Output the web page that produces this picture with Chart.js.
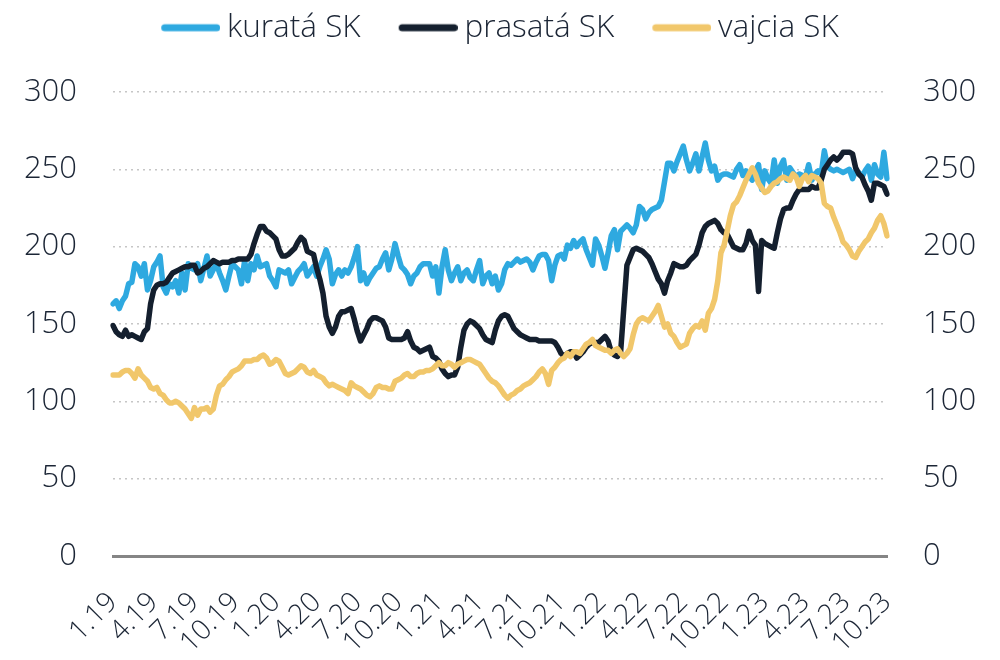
<!DOCTYPE html>
<html>
<head>
<meta charset="utf-8">
<script src="https://cdn.jsdelivr.net/npm/chart.js@4.4.0/dist/chart.umd.min.js"></script>
<style>
html, body { margin: 0; padding: 0; background: #fff; }
#wrap { width: 1000px; height: 660px; position: relative; }
</style>
</head>
<body>
<div id="wrap"><canvas id="chart"></canvas></div>
<script>
// quarter tick labels, one every 13 weeks
var tickLabels = ['1.19', '4.19', '7.19', '10.19', '1.20', '4.20', '7.20', '10.20', '1.21', '4.21',
    '7.21', '10.21', '1.22', '4.22', '7.22', '10.22', '1.23', '4.23', '7.23', '10.23'];
var weeksPerTick = 13;

var kurata = [
    163, 165, 160, 165, 168, 176, 177, 189, 187, 181,
    189, 172, 178, 187, 190, 194, 174, 170, 176, 174,
    178, 170, 183, 172, 189, 186, 185, 189, 178, 186,
    194, 181, 185, 189, 183, 178, 172, 181, 189, 187,
    185, 176, 191, 178, 189, 185, 194, 187, 188, 189,
    181, 178, 174, 185, 184, 183, 185, 176, 180, 184,
    186, 189, 181, 184, 187, 181, 187, 192, 198, 192,
    176, 182, 185, 181, 185, 183, 187, 193, 200, 178,
    183, 176, 180, 183, 186, 187, 192, 196, 185, 192,
    202, 194, 187, 185, 182, 176, 181, 183, 187, 189,
    189, 189, 181, 187, 170, 187, 198, 185, 178, 183,
    187, 178, 183, 185, 180, 178, 185, 191, 176, 181,
    183, 176, 181, 172, 176, 185, 189, 188, 190, 192,
    190, 191, 192, 190, 185, 190, 194, 195, 195, 191,
    178, 188, 194, 195, 192, 201, 199, 204, 200, 203,
    205, 198, 193, 188, 205, 201, 194, 186, 196, 207,
    211, 198, 210, 212, 214, 212, 209, 214, 226, 224,
    218, 222, 224, 225, 226, 230, 242, 254, 254, 249,
    255, 260, 265, 256, 249, 254, 260, 249, 258, 267,
    256, 249, 252, 243, 246, 247, 247, 246, 245, 250,
    253, 246, 249, 246, 243, 249, 253, 237, 249, 244,
    241, 256, 241, 252, 256, 243, 251, 248, 245, 247,
    246, 245, 253, 243, 247, 249, 247, 262, 252, 250,
    249, 250, 249, 248, 249, 250, 244, 249, 248, 245,
    249, 252, 243, 253, 247, 245, 261, 244
];

var prasata = [
    149, 145, 143, 142, 146, 142, 143, 142, 141, 140,
    145, 147, 163, 172, 175, 176, 176, 177, 180, 183,
    184, 185, 186, 187, 187, 188, 188, 183, 184, 186,
    187, 189, 191, 190, 189, 190, 190, 190, 191, 191,
    192, 192, 192, 192, 195, 202, 208, 213, 213, 210,
    209, 207, 205, 198, 194, 194, 195, 197, 199, 203,
    206, 204, 197, 196, 195, 186, 179, 170, 155, 148,
    144, 148, 155, 158, 158, 159, 160, 153, 145, 139,
    143, 147, 152, 154, 154, 153, 152, 148, 141, 140,
    140, 140, 140, 141, 145, 139, 135, 134, 132, 133,
    134, 135, 129, 128, 126, 121, 118, 116, 117, 117,
    122, 135, 146, 150, 152, 151, 149, 147, 143, 140,
    139, 138, 146, 152, 155, 156, 155, 151, 147, 145,
    143, 142, 141, 140, 140, 140, 139, 139, 139, 139,
    139, 138, 135, 131, 129, 131, 132, 132, 128, 130,
    132, 135, 137, 138, 138, 138, 140, 142, 139, 132,
    130, 129, 132, 160, 188, 193, 198, 199, 198, 197,
    195, 193, 189, 184, 179, 176, 170, 178, 183, 189,
    188, 187, 187, 188, 191, 193, 195, 201, 209, 213,
    215, 216, 217, 215, 211, 209, 208, 204, 200, 199,
    198, 198, 202, 210, 204, 201, 171, 204, 202, 201,
    200, 199, 209, 218, 224, 225, 225, 230, 234, 237,
    237, 237, 237, 239, 238, 238, 243, 250, 253, 256,
    258, 256, 258, 261, 261, 261, 260, 251, 247, 245,
    240, 236, 230, 241, 241, 240, 239, 234
];

var vajcia = [
    117, 117, 117, 119, 120, 120, 118, 115, 121, 117,
    115, 113, 109, 108, 109, 105, 104, 101, 99, 99,
    100, 99, 97, 95, 92, 89, 96, 91, 95, 95,
    96, 93, 95, 104, 110, 111, 114, 116, 119, 120,
    121, 123, 126, 126, 126, 127, 127, 129, 130, 128,
    124, 125, 127, 126, 122, 118, 117, 118, 119, 121,
    123, 122, 119, 118, 120, 117, 116, 115, 112, 110,
    111, 110, 109, 108, 107, 105, 112, 110, 109, 108,
    106, 104, 103, 105, 109, 110, 109, 109, 108, 108,
    113, 114, 115, 117, 118, 116, 116, 118, 119, 119,
    120, 120, 121, 123, 125, 123, 123, 125, 124, 122,
    124, 125, 126, 127, 127, 126, 125, 124, 121, 118,
    115, 113, 112, 110, 107, 104, 102, 104, 105, 107,
    108, 110, 111, 112, 114, 116, 119, 121, 118, 111,
    120, 122, 125, 127, 128, 131, 129, 132, 132, 131,
    134, 137, 138, 140, 136, 135, 134, 133, 133, 131,
    133, 134, 131, 129, 131, 134, 143, 150, 153, 154,
    153, 152, 155, 158, 162, 155, 148, 150, 144, 142,
    138, 135, 136, 137, 144, 147, 149, 148, 152, 146,
    157, 160, 166, 178, 196, 201, 210, 220, 227, 229,
    233, 238, 243, 247, 251, 247, 241, 238, 235, 236,
    239, 241, 242, 244, 245, 244, 243, 247, 245, 239,
    244, 246, 242, 246, 245, 244, 241, 228, 226, 225,
    219, 214, 209, 203, 201, 198, 194, 193, 197, 200,
    203, 205, 209, 212, 217, 220, 215, 207
];

var labels = kurata.map(function(v, i) {
    return i % weeksPerTick === 0 ? tickLabels[i / weeksPerTick] : '';
});

var textColor = '#1b2535';
Chart.defaults.font.family = "'Open Sans', sans-serif";
Chart.defaults.font.weight = 300;
Chart.defaults.color = textColor;

// legend sits high, plot area starts lower
var legendSpace = {
    id: 'legendSpace',
    beforeInit: function(chart) {
        var fit = chart.legend.fit;
        chart.legend.fit = function() {
            fit.call(this);
            this.height = 92;
        };
        var draw = chart.legend.draw;
        chart.legend.draw = function() {
            this.ctx.save();
            this.ctx.translate(0, -26);
            draw.call(this);
            this.ctx.restore();
        };
    }
};

// legend swatch: rounded line pushed to the right so it sits close to the text
function makeSwatch(color) {
    var c = document.createElement('canvas');
    c.width = 68;
    c.height = 10;
    var g = c.getContext('2d');
    g.strokeStyle = color;
    g.lineWidth = 7;
    g.lineCap = 'round';
    g.beginPath();
    g.moveTo(12.5, 5);
    g.lineTo(64.5, 5);
    g.stroke();
    return c;
}

function series(label, data, color, order) {
    return {
        label: label,
        data: data,
        borderColor: color,
        backgroundColor: color,
        borderWidth: 5.5,
        borderCapStyle: 'round',
        borderJoinStyle: 'round',
        pointRadius: 0,
        tension: 0,
        yAxisID: 'y',
        order: order
    };
}

var ctx = document.getElementById('chart').getContext('2d');
var chart = new Chart(ctx, {
    type: 'line',
    data: {
        labels: labels,
        datasets: [
            series('kuratá SK', kurata, '#2ea9e0', 2),
            series('prasatá SK', prasata, '#141f2e', 1),
            series('vajcia SK', vajcia, '#f1c76b', 0)
        ]
    },
    options: {
        responsive: true,
        maintainAspectRatio: false,
        animation: false,
        layout: { padding: 0 },
        plugins: {
            legend: {
                position: 'top',
                labels: {
                    usePointStyle: true,
                    pointStyleWidth: 50,
                    padding: 38,
                    color: textColor,
                    font: { size: 31.5, weight: 300 },
                    generateLabels: function(chart) {
                        var items = Chart.defaults.plugins.legend.labels.generateLabels(chart);
                        items.forEach(function(it) {
                            it.pointStyle = makeSwatch(chart.data.datasets[it.datasetIndex].borderColor);
                        });
                        return items.sort(function(a, b) { return a.datasetIndex - b.datasetIndex; });
                    }
                }
            },
            tooltip: { enabled: false }
        },
        scales: {
            x: {
                type: 'category',
                grid: { display: false },
                border: { color: '#858585', width: 3 },
                ticks: {
                    autoSkip: false,
                    minRotation: 45,
                    maxRotation: 45,
                    padding: 22,
                    color: textColor,
                    font: { size: 28, weight: 300 }
                },
                afterFit: function(axis) { axis.height = 104; }
            },
            y: {
                position: 'left',
                min: 0,
                max: 300,
                grid: { color: '#c6c6c6', lineWidth: 1.5, drawTicks: false },
                border: { display: false, dash: [2, 4] },
                ticks: { stepSize: 50, padding: 36, color: textColor, font: { size: 31, weight: 300 } },
                afterFit: function(axis) { axis.width = 113; }
            },
            y2: {
                position: 'right',
                min: 0,
                max: 300,
                grid: { display: false },
                border: { display: false },
                ticks: { stepSize: 50, padding: 28, color: textColor, font: { size: 31, weight: 300 } },
                afterFit: function(axis) { axis.width = 113; }
            }
        }
    },
    plugins: [legendSpace]
});
</script>
</body>
</html>
